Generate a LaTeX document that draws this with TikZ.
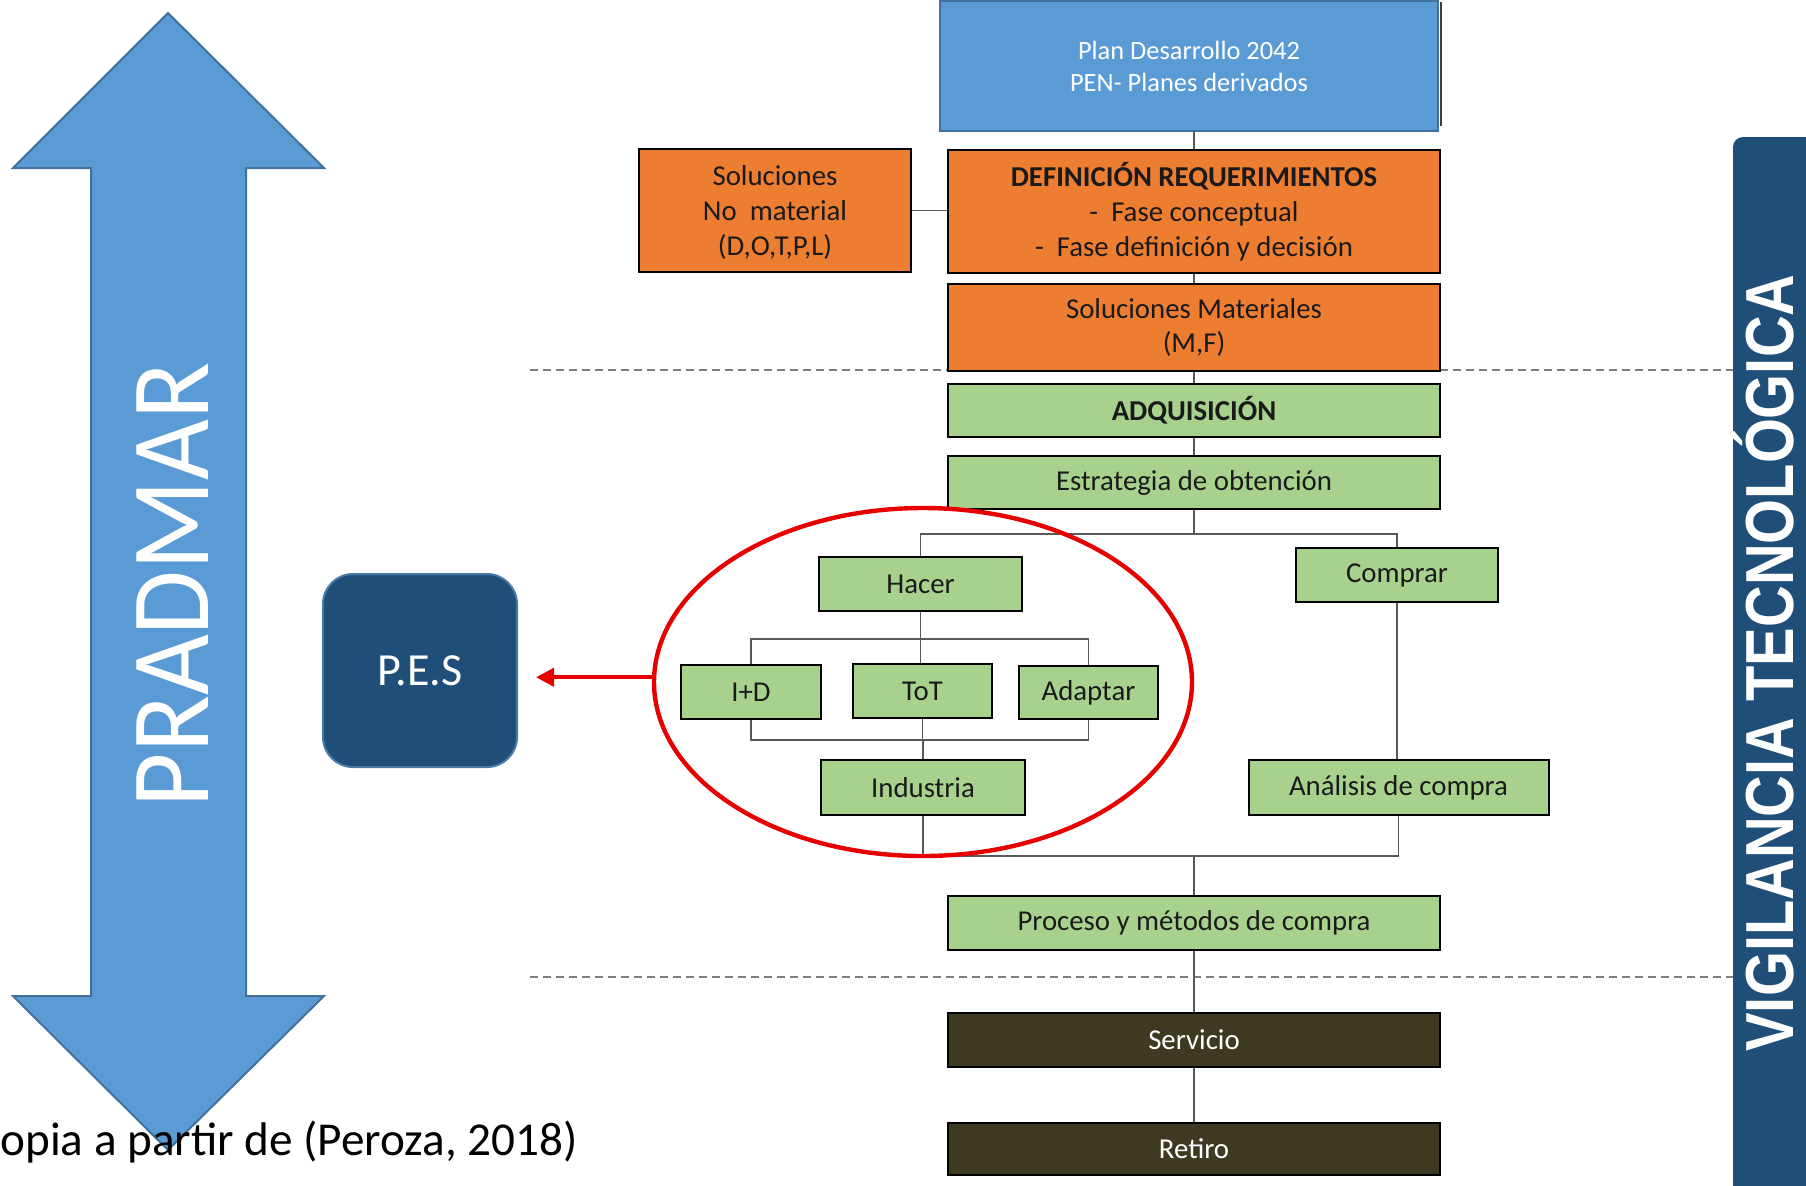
\documentclass[tikz,border=0pt]{standalone}
\usepackage{fontspec}
\setmainfont{Carlito}
\newfontfamily\headfont{Liberation Sans}
\usetikzlibrary{arrows.meta,shapes.geometric}

\definecolor{skyC}{HTML}{5B9BD5}
\definecolor{skyEdge}{HTML}{41719C}
\definecolor{orangeC}{HTML}{ED7D31}
\definecolor{greenC}{HTML}{A9D18E}
\definecolor{oliveC}{HTML}{3E3A22}
\definecolor{navyC}{HTML}{1F4E79}
\definecolor{navyEdge}{HTML}{4A78A8}
\definecolor{linkC}{HTML}{595959}
\definecolor{dashC}{HTML}{7F7F7F}
\definecolor{ringC}{RGB}{230,0,0}
\definecolor{inkC}{HTML}{1A1A1A}

\begin{document}
\begin{tikzpicture}[x=0.5pt,y=-0.5pt,
  txt/.style={font=\fontsize{14.4}{17.4}\selectfont},
  box/.style={draw=black, line width=1pt, inner sep=0pt, align=center, text=inkC, txt},
  planbox/.style={box, fill=skyC, draw=skyEdge, text=white, font=\fontsize{13.2}{16}\selectfont},
  orangebox/.style={box, fill=orangeC, font=\fontsize{14.4}{17.5}\selectfont},
  greenbox/.style={box, fill=greenC},
  darkbox/.style={box, fill=oliveC, text=white},
  wide/.style={minimum width=246pt},
  link/.style={draw=linkC, line width=0.8pt},
  phase/.style={draw=dashC, line width=0.8pt, dash pattern=on 4pt off 2.5pt},
  ring/.style={ellipse, draw=ringC, line width=2.2pt, inner sep=0pt,
               minimum width=269pt, minimum height=174pt},
  pointer/.style={draw=ringC, line width=2pt, shorten >=9pt,
                  -{Triangle[length=9pt,width=9pt]}},
  pesbox/.style={fill=navyC, draw=navyEdge, line width=1pt, rounded corners=15pt,
                 minimum width=97pt, minimum height=96.5pt, inner sep=0pt,
                 text=white, font=\fontsize{23}{27}\selectfont},
  bigarrow/.style={fill=skyC, draw=skyEdge, line width=1pt, line join=miter},
  vbar/.style={fill=navyC, draw=none, rounded corners=5pt, inner sep=0pt,
               minimum width=48.5pt, minimum height=531.5pt}
]
\useasboundingbox (0,0) rectangle (1806,1185);
\fill[white] (0,0) rectangle (1806,1185);

% technology watch bar on the right
\node[vbar] (vig) at (1781.5,668.5) {};
\node[rotate=90, anchor=base, text=white, inner sep=0pt] (vigtext) at (1793,663)
  {\scalebox{0.85}[1]{\headfont\bfseries\fontsize{34}{38}\selectfont VIGILANCIA TECNOL\'OGICA}};

% phase separators
\draw[phase] (530,370) -- (530,370 -| vig.west);
\draw[phase] (530,977) -- (530,977 -| vig.west);

% double arrow PRADMAR
\draw[bigarrow] (168,13) -- (324,168) -- (246,168) -- (246,996) -- (324,996)
  -- (168,1150) -- (13,996) -- (91,996) -- (91,168) -- (13,168) -- cycle;
\node[rotate=90, anchor=base, text=white, inner sep=0pt] (pradmar) at (208,585)
  {\scalebox{0.94}[1]{\fontsize{55.9}{60}\selectfont PRADMAR}};

% caption
\node[anchor=base west, inner sep=0pt, text=black, font=\fontsize{23.6}{28}\selectfont] (cap)
  at (0,1155) {opia a partir de (Peroza, 2018)};

% P.E.S
\node[pesbox] (pes) at (420,670.5) {P.E.S};

% process column
\node[planbox, minimum width=249pt, minimum height=65pt] (plan) at (1189,66)
  {Plan Desarrollo 2042\\PEN- Planes derivados};
\draw[black!75, line width=1.2pt] ([xshift=1pt,yshift=-1pt]plan.north east)
  -- ([xshift=1pt,yshift=3pt]plan.south east);

\node[orangebox, wide, minimum height=61.5pt] (def) at (1194,211.5)
  {\textbf{DEFINICIÓN REQUERIMIENTOS}\\-~~Fase conceptual\\-~~Fase definición y decisión};
\node[orangebox, minimum width=136pt, minimum height=61.5pt] (nomat) at (775,210.5)
  {\raisebox{-1.2pt}[\height][\depth]{\parbox{130pt}{\centering Soluciones\\No~~material\\(D,O,T,P,L)}}};
\node[orangebox, wide, minimum height=43.5pt, font=\fontsize{14.4}{17}\selectfont] (smat) at (1194,327.5)
  {Soluciones Materiales\\(M,F)};

\node[greenbox, wide, minimum height=26.5pt] (adq) at (1194,410.5) {\textbf{ADQUISICIÓN}};
\node[greenbox, wide, minimum height=26.5pt] (estr) at (1194,482.5) {Estrategia de obtención};

\node[greenbox, minimum width=101.5pt, minimum height=27pt] (hacer) at (920.5,584) {Hacer};
\node[greenbox, minimum width=101pt, minimum height=27pt] (comprar) at (1397,575) {Comprar};

\node[greenbox, minimum width=70pt, minimum height=27pt] (id) at (751,692) {I+D};
\node[greenbox, minimum width=69.5pt, minimum height=27pt] (tot) at (922.5,691) {ToT};
\node[greenbox, minimum width=69.5pt, minimum height=26.5pt] (adap) at (1088.5,692.5) {Adaptar};

\node[greenbox, minimum width=102pt, minimum height=27.5pt] (indus) at (923,787.5) {Industria};
\node[greenbox, minimum width=150pt, minimum height=27.5pt] (anal) at (1398.5,787.5) {Análisis de compra};

\node[greenbox, wide, minimum height=27pt] (proc) at (1194,923) {Proceso y métodos de compra};
\node[darkbox, wide, minimum height=27pt] (serv) at (1194,1040) {Servicio};
\node[darkbox, wide, minimum height=26pt] (ret) at (1194,1149) {Retiro};

% junctions
\coordinate (jA) at (1194,534);
\coordinate (jB) at (920.5,639);
\coordinate (jC) at (923,740);
\coordinate (jD) at (1194,856);

% connectors
\draw[link] (plan.south -| def.north) -- (def.north);
\draw[link] (nomat.east) -- (nomat.east -| def.west);
\draw[link] (def) -- (smat);
\draw[link] (smat) -- (adq);
\draw[link] (adq) -- (estr);
\draw[link] (estr.south) -- (jA);
\draw[link] (hacer.north) |- (jA) -| (comprar.north);
\draw[link] (hacer.south) -- (jB);
\draw[link] (id.north) |- (jB) -| (adap.north);
\draw[link] (jB) -- (jB |- tot.north);
\draw[link] (id.south) |- (jC) -| (adap.south);
\draw[link] (tot.south) -- (tot.south |- jC);
\draw[link] (jC) -- (indus.north);
\draw[link] (comprar.south) -- (comprar.south |- anal.north);
\draw[link] (indus.south) |- (jD) -| (anal.south);
\draw[link] (jD) -- (proc.north);
\draw[link] (proc) -- (serv);
\draw[link] (serv) -- (ret);

% highlighted make-branch and its pointer
\node[ring] (ring) at (923,682) {};
\draw[pointer] (ring.179.2) -- (ring.179.2 -| pes.east);
\end{tikzpicture}
\end{document}
